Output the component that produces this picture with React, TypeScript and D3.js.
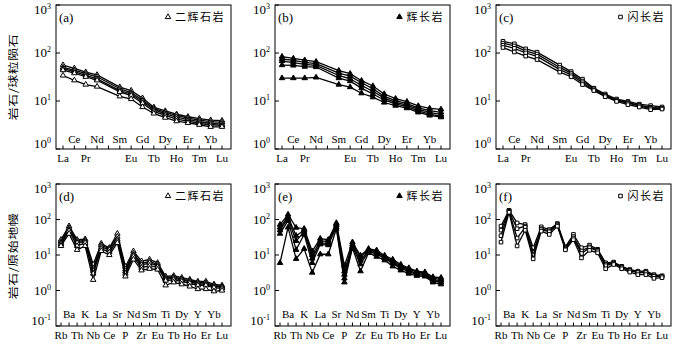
import React from 'react';
import * as d3 from 'd3';

// REE axis keeps an empty Pm slot
const reeAxis = ['La', 'Ce', 'Pr', 'Nd', 'Pm', 'Sm', 'Eu', 'Gd', 'Tb', 'Dy', 'Ho', 'Er', 'Tm', 'Yb', 'Lu'];
const reeElements = ['La', 'Ce', 'Pr', 'Nd', 'Sm', 'Eu', 'Gd', 'Tb', 'Dy', 'Ho', 'Er', 'Tm', 'Yb', 'Lu'];
const reeUpper = ['Ce', 'Nd', 'Sm', 'Gd', 'Dy', 'Er', 'Yb'];

const spiderElements = ['Rb', 'Ba', 'Th', 'K', 'Nb', 'La', 'Ce', 'Sr', 'P', 'Nd', 'Zr', 'Sm', 'Eu', 'Ti', 'Tb', 'Dy', 'Ho', 'Y', 'Er', 'Yb', 'Lu'];

const reeTicks = [1, 10, 100, 1000];
const spiderTicks = [0.1, 1, 10, 100, 1000];

// (a) 二辉石岩
const reeA = [
    [56, 48, 40, 35, 19.5, 16.5, 11.5, 7.4, 6.2, 5.3, 4.7, 4.3, 4.0, 3.9],
    [50, 44, 37, 32, 18, 15, 10.5, 7.0, 5.8, 5.0, 4.4, 4.0, 3.7, 3.6],
    [47, 41, 34, 29, 16.5, 14, 9.8, 6.6, 5.4, 4.6, 4.1, 3.7, 3.4, 3.3],
    [44, 38, 32, 27, 15.5, 13, 9.0, 6.1, 5.0, 4.2, 3.8, 3.4, 3.2, 3.1],
    [34, 27, 22, 20, 12.5, 11, 7.5, 5.5, 4.5, 3.8, 3.5, 3.2, 2.9, 2.9],
];
// (b) 辉长岩
const reeB = [
    [84, 77, 71, 66, 43, 37, 26.5, 20.5, 14, 11.2, 9.7, 7.9, 7.0, 6.7],
    [75, 70, 64, 60, 38, 33, 24, 18, 12.5, 10.2, 8.8, 7.2, 6.3, 5.8],
    [68, 63, 58, 55, 34, 29, 21, 16, 11.5, 9.4, 8.2, 6.7, 5.8, 5.2],
    [56, 55, 52, 51, 30, 26, 18.5, 14, 10.5, 8.7, 7.6, 6.2, 5.3, 4.8],
    [30, 30, 30, 31, 22, 19.5, 14.5, 12, 9.3, 8.0, 7.1, 5.8, 5.0, 4.6],
];
// (c) 闪长岩
const reeC = [
    [175, 155, 122, 104, 56, 41, 28.5, 18.5, 14, 11, 9.8, 8.6, 8.0, 7.5],
    [160, 140, 110, 95, 50, 38, 26, 18, 13.2, 10.5, 9.3, 8.2, 7.4, 7.1],
    [145, 125, 100, 85, 45, 35, 24, 17, 12.8, 10.2, 9.0, 7.9, 7.0, 7.0],
    [130, 105, 86, 73, 40, 32, 22, 16.5, 12.3, 9.8, 8.4, 7.5, 6.6, 6.8],
];
// (d) 二辉石岩
const spiderD = [
    [27, 65, 27, 28, 5.4, 21, 16, 40, 4.7, 12.8, 6.7, 7.5, 6.0, 2.5, 2.6, 2.3, 2.05, 1.8, 1.8, 1.5, 1.4],
    [24, 58, 24, 26, 4.2, 19, 15, 33, 4.0, 11, 5.8, 6.6, 5.4, 2.3, 2.4, 2.1, 1.9, 1.7, 1.65, 1.4, 1.3],
    [22, 52, 22, 24, 3.6, 17, 14, 28, 3.5, 10, 5.2, 6.0, 5.0, 2.1, 2.2, 2.0, 1.75, 1.55, 1.5, 1.3, 1.25],
    [20, 48, 18, 22, 3.0, 15, 12, 25, 3.0, 9, 4.4, 5.0, 4.6, 1.9, 2.0, 1.8, 1.6, 1.4, 1.4, 1.2, 1.15],
    [18, 40, 14, 18, 2.0, 13, 10, 22, 2.5, 7.5, 3.7, 4.1, 3.9, 1.4, 1.7, 1.5, 1.3, 1.1, 1.1, 0.95, 1.0],
];
// (e) 辉长岩
const spiderE = [
    [72, 138, 59, 55, 12.8, 29, 27, 80, 5.0, 23, 9.7, 15, 13.6, 9.7, 7.5, 5.4, 4.3, 3.5, 3.3, 2.4, 2.3],
    [60, 120, 35, 50, 10, 25, 24, 75, 3.5, 20, 8.5, 14, 12.5, 9, 6.8, 5.0, 4.0, 3.3, 3.1, 2.2, 2.1],
    [50, 110, 25, 45, 8, 22, 21, 70, 2.8, 18, 7, 13, 11.5, 8.5, 6.3, 4.6, 3.7, 3.0, 2.9, 2.0, 1.9],
    [40, 95, 14, 38, 6, 20, 19, 62, 2.2, 17, 5.5, 12.5, 10.5, 8, 5.8, 4.2, 3.4, 2.8, 2.7, 1.9, 1.7],
    [6, 60, 7.8, 15, 3.2, 10.5, 10.5, 55, 1.7, 16, 3.5, 11.5, 9, 7.1, 4.8, 3.7, 3.0, 2.6, 2.5, 1.7, 1.5],
];
// (f) 闪长岩
const spiderF = [
    [65, 182, 80, 72, 16, 62, 52, 77, 17, 38, 16, 19, 14.5, 6.0, 6.3, 4.8, 3.9, 3.5, 3.5, 2.8, 2.6],
    [50, 175, 55, 65, 12, 55, 48, 72, 16, 33, 13, 17, 13.5, 5.5, 6.0, 4.6, 3.7, 3.3, 3.3, 2.6, 2.5],
    [35, 170, 30, 60, 10, 52, 45, 70, 15, 30, 11, 16, 13, 5.0, 5.8, 4.4, 3.6, 3.2, 3.2, 2.5, 2.5],
    [23, 160, 18, 50, 7.8, 47, 38, 65, 14, 27, 8.3, 13.6, 11.5, 4.1, 5.4, 4.1, 3.3, 2.8, 2.8, 2.2, 2.3],
];

const serif = '"Liberation Serif", "DejaVu Serif", "Times New Roman", serif';
const cjk = '"Noto Sans CJK SC", sans-serif';

function exponent(v) {
    return String(Math.round(Math.log10(v)));
}

function Marker({ kind, x, y }) {
    let type = kind === 'square' ? d3.symbolSquare : d3.symbolTriangle;
    let size = kind === 'square' ? 13 : 13;
    let path = d3.symbol().type(type).size(size)();
    let filled = kind === 'filledTriangle';
    return (
        <path
            d={path}
            transform={`translate(${x},${y})`}
            fill={filled ? '#000' : '#fff'}
            stroke='#000'
            strokeWidth={1}
        />
    );
}

function Panel({ left, top, bottom, width, letter, legend, kind, axis, elements, upper, series, domain, ticks, padL, padR, upperY, lowerY }) {
    const right = left + width;
    let xScale = d3.scalePoint().domain(axis).range([left + padL, right - padR]);
    let yScale = d3.scaleLog().domain(domain).range([bottom, top]);

    let line = d3
        .line()
        .x((d, i) => xScale(elements[i]))
        .y((d) => yScale(d));

    const legendSize = 11;
    const legendEnd = right - 6;
    const markerX = legendEnd - legend.length * (legendSize + 1.5) - 7;
    const legendY = top + 16;

    return (
        <g>
            <rect x={left} y={top} width={width} height={bottom - top} fill='none' stroke='#000' strokeWidth={1} />
            {ticks.map((t) => (
                <g key={t}>
                    <line x1={left} x2={left + 4} y1={yScale(t)} y2={yScale(t)} stroke='#000' />
                    <text
                        x={left - 5}
                        y={Math.min(Math.max(yScale(t) + 4, top + 9), bottom - 1)}
                        textAnchor='end'
                        fontFamily={serif}
                        fontSize={13}
                    >
                        10<tspan fontSize={8} dy={-5}>{exponent(t)}</tspan>
                    </text>
                </g>
            ))}
            {axis.map((el, i) => (
                <line key={el + i} x1={xScale(el)} x2={xScale(el)} y1={bottom} y2={bottom - 3.5} stroke='#000' />
            ))}
            {axis.map((el, i) => {
                if (el === 'Pm') return null;
                let up = upper.includes(el);
                return (
                    <text
                        key={'l' + el + i}
                        x={xScale(el)}
                        y={up ? upperY : lowerY}
                        textAnchor='middle'
                        fontFamily={serif}
                        fontSize={11}
                    >
                        {el}
                    </text>
                );
            })}
            {series.map((s, si) => (
                <g key={si}>
                    <path d={line(s)} fill='none' stroke='#000' strokeWidth={1.3} />
                    {s.map((v, i) => (
                        <Marker key={i} kind={kind} x={xScale(elements[i])} y={yScale(v)} />
                    ))}
                </g>
            ))}
            <text x={left + 3} y={top + 17} fontFamily={serif} fontSize={13}>{letter}</text>
            <Marker kind={kind} x={markerX} y={legendY - 4} />
            <text x={legendEnd} y={legendY} textAnchor='end' fontFamily={cjk} fontSize={legendSize} letterSpacing={1.5}>{legend}</text>
        </g>
    );
}

const lefts = [56, 275, 496];
const panelWidth = 175;

export default function App() {
    const legends = ['二辉石岩', '辉长岩', '闪长岩'];
    const kinds = ['triangle', 'filledTriangle', 'square'];
    const reeSeries = [reeA, reeB, reeC];
    const spiderSeries = [spiderD, spiderE, spiderF];
    const topLetters = ['(a)', '(b)', '(c)'];
    const bottomLetters = ['(d)', '(e)', '(f)'];
    const spiderUpper = spiderElements.filter((e, i) => i % 2 === 1);

    return (
        <svg width={683} height={347} style={{ position: 'absolute', left: 0, top: 0, background: '#fff' }}>
            <rect x={0} y={0} width={683} height={347} fill='#fff' />
            <text transform='translate(17,77) rotate(-90) scale(1,0.8)' textAnchor='middle' fontFamily={cjk} fontSize={13} letterSpacing={0.5}>岩石/球粒陨石</text>
            <text transform='translate(17,256) rotate(-90) scale(1,0.8)' textAnchor='middle' fontFamily={cjk} fontSize={13} letterSpacing={0.5}>岩石/原始地幔</text>
            {lefts.map((left, i) => (
                <Panel
                    key={'ree' + i}
                    left={left}
                    top={5}
                    bottom={149}
                    width={panelWidth}
                    letter={topLetters[i]}
                    legend={legends[i]}
                    kind={kinds[i]}
                    axis={reeAxis}
                    elements={reeElements}
                    upper={reeUpper}
                    series={reeSeries[i]}
                    domain={[1, 1000]}
                    ticks={reeTicks}
                    padL={7}
                    padR={9}
                    upperY={143}
                    lowerY={162}
                />
            ))}
            {lefts.map((left, i) => (
                <Panel
                    key={'spider' + i}
                    left={left}
                    top={184}
                    bottom={326}
                    width={panelWidth}
                    letter={bottomLetters[i]}
                    legend={legends[i]}
                    kind={kinds[i]}
                    axis={spiderElements}
                    elements={spiderElements}
                    upper={spiderUpper}
                    series={spiderSeries[i]}
                    domain={[0.1, 1000]}
                    ticks={spiderTicks}
                    padL={5}
                    padR={9}
                    upperY={318}
                    lowerY={339}
                />
            ))}
        </svg>
    );
}
